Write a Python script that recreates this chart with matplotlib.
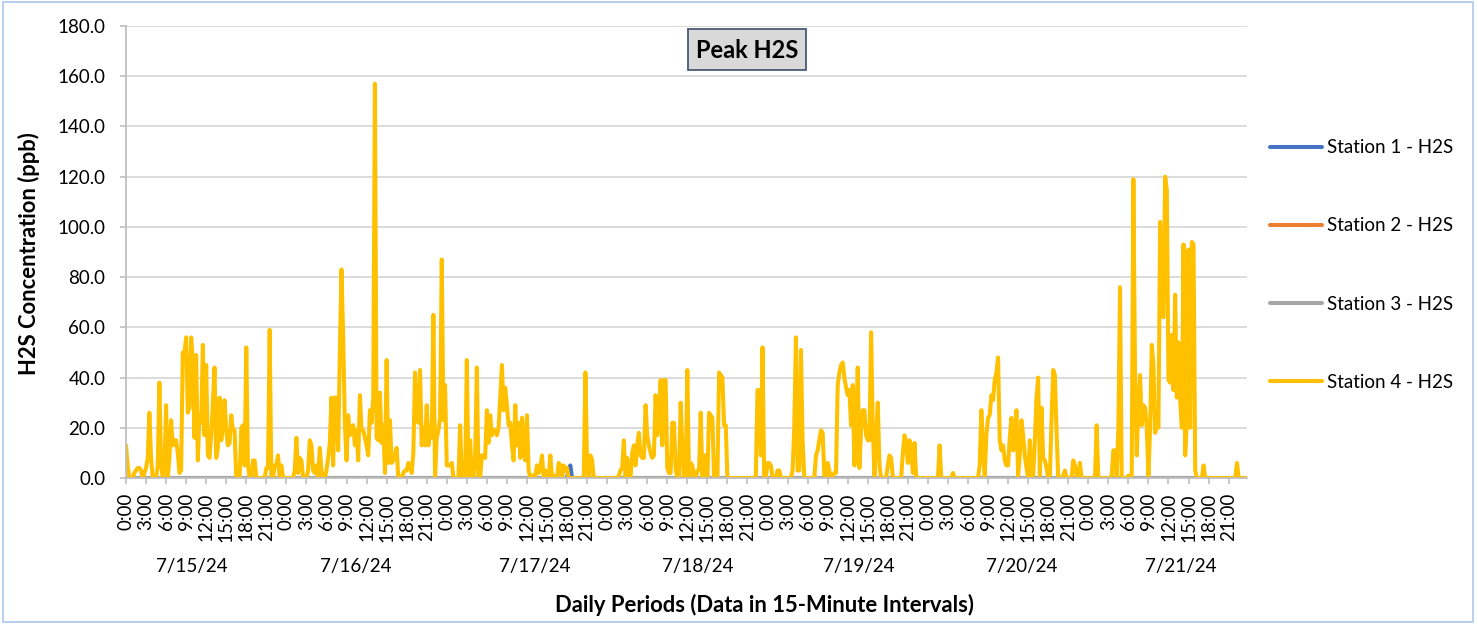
import matplotlib
matplotlib.use('Agg')
import matplotlib.pyplot as plt
from matplotlib.patches import Rectangle

plt.rcParams['font.family'] = ['Lato', 'DejaVu Sans']

# chart text
title = 'Peak H2S'
ylabel = 'H2S Concentration (ppb)'
xlabel = 'Daily Periods (Data in 15-Minute Intervals)'
dates = ['7/15/24', '7/16/24', '7/17/24', '7/18/24', '7/19/24', '7/20/24', '7/21/24']
hours = ['0:00', '3:00', '6:00', '9:00', '12:00', '15:00', '18:00', '21:00']
series_names = ['Station 1 - H2S', 'Station 2 - H2S', 'Station 3 - H2S', 'Station 4 - H2S']

# Station 4 peak H2S (ppb), one value per 15 minutes
day1 = [13, 5, 0, 0, 0, 2, 3, 4, 4, 3,
        0, 2, 4, 8, 26, 8, 0, 0, 0, 5,
        38, 5, 0, 3, 29, 0, 8, 23, 13, 15,
        15, 10, 2, 3, 50, 50, 56, 26, 28, 56,
        47, 16, 49, 7, 25, 22, 53, 17, 45, 9,
        8, 17, 30, 44, 8, 12, 32, 15, 20, 31,
        19, 13, 14, 25, 19, 19, 0, 0, 0, 20,
        21, 5, 52, 5, 0, 0, 7, 7, 0, 0,
        0, 0, 0, 0, 4, 4, 59, 0, 0, 5,
        5, 9, 0, 5, 0, 0]
day2 = [0, 0, 0, 0, 0, 3, 16, 2, 8, 7,
        0, 0, 0, 3, 15, 13, 3, 2, 5, 0,
        12, 3, 0, 0, 3, 8, 14, 32, 5, 32,
        32, 11, 50, 83, 56, 22, 7, 25, 17, 20,
        21, 13, 19, 7, 33, 19, 19, 16, 13, 9,
        27, 22, 32, 157, 16, 15, 34, 14, 21, 2,
        47, 6, 23, 6, 7, 9, 12, 0, 0, 0,
        2, 3, 3, 6, 5, 2, 10, 42, 23, 22,
        43, 13, 20, 13, 29, 13, 21, 16, 65, 0,
        16, 19, 24, 87, 23, 37]
day3 = [5, 5, 5, 6, 0, 0, 0, 0, 21, 0,
        0, 0, 47, 0, 15, 0, 0, 8, 44, 0,
        0, 9, 9, 8, 27, 14, 25, 17, 19, 19,
        17, 20, 32, 45, 27, 36, 29, 21, 22, 13,
        7, 29, 13, 22, 8, 24, 11, 7, 25, 3,
        0, 1, 1, 1, 5, 2, 4, 9, 0, 3,
        1, 0, 9, 0, 1, 0, 0, 6, 5, 0,
        5, 3, 4, 0, 0, 0, 0, 0, 0, 0,
        0, 0, 0, 42, 5, 0, 9, 7, 0, 0,
        0, 0, 0, 0, 0, 0]
day4 = [0, 0, 0, 0, 0, 0, 0, 1, 3, 4,
        15, 0, 8, 0, 0, 10, 13, 5, 13, 18,
        9, 8, 8, 29, 17, 13, 10, 8, 9, 33,
        17, 20, 39, 13, 39, 39, 4, 2, 2, 22,
        22, 4, 0, 0, 30, 13, 0, 0, 43, 0,
        6, 5, 0, 0, 3, 3, 26, 0, 9, 9,
        0, 26, 25, 24, 0, 0, 0, 42, 41, 40,
        21, 21, 0, 0, 0, 0, 0, 0, 0, 0,
        0, 0, 0, 0, 0, 0, 0, 0, 0, 1,
        35, 35, 9, 52, 0, 0]
day5 = [6, 6, 5, 0, 0, 0, 3, 3, 0, 0,
        0, 0, 0, 0, 0, 3, 20, 56, 3, 3,
        51, 15, 0, 0, 0, 0, 0, 0, 0, 9,
        11, 15, 19, 18, 1, 0, 6, 3, 0, 1,
        2, 2, 37, 42, 45, 46, 40, 36, 33, 35,
        21, 37, 5, 20, 44, 4, 19, 27, 27, 17,
        15, 15, 58, 20, 1, 16, 30, 5, 0, 0,
        0, 0, 5, 9, 8, 0, 0, 0, 0, 0,
        0, 10, 17, 14, 6, 15, 11, 2, 14, 0,
        0, 0, 0, 0, 0, 0]
day6 = [0, 0, 0, 0, 0, 0, 0, 13, 0, 0,
        0, 0, 0, 0, 0, 2, 0, 0, 0, 0,
        0, 0, 0, 0, 0, 0, 0, 0, 0, 0,
        0, 5, 27, 12, 1, 17, 24, 25, 33, 31,
        39, 42, 48, 15, 11, 13, 7, 5, 5, 16,
        24, 11, 12, 27, 1, 9, 23, 17, 9, 4,
        0, 15, 0, 1, 15, 32, 40, 1, 28, 8,
        7, 4, 0, 1, 23, 43, 41, 19, 0, 0,
        0, 1, 3, 0, 0, 0, 0, 7, 5, 1,
        0, 6, 0, 0, 0, 0]
day7 = [0, 0, 0, 0, 0, 21, 0, 0, 0, 0,
        0, 0, 0, 0, 1, 11, 11, 0, 20, 76,
        0, 0, 0, 0, 1, 0, 1, 119, 40, 9,
        29, 41, 21, 29, 28, 20, 1, 20, 53, 45,
        18, 21, 20, 102, 65, 64, 120, 115, 39, 38,
        57, 35, 73, 32, 54, 31, 20, 93, 9, 23,
        91, 20, 94, 93, 3, 0, 0, 0, 0, 5,
        0, 0, 0, 0, 0, 0, 0, 0, 0, 0,
        0, 0, 0, 0, 0, 0, 0, 0, 0, 6,
        0, 0, 0, 0, 0, 0]

station4 = day1 + day2 + day3 + day4 + day5 + day6 + day7
n = len(station4)
# other stations stay at zero, station 1 shows one small bump on 7/17
station1 = [0.0] * 265 + [4.0, 5.0] + [0.0] * (n - 267)
station2 = [0.0] * n
station3 = [0.0] * n

colors = ['#4472C4', '#ED7D31', '#A5A5A5', '#FFC000']
# where Excel centred each date label inside its day (hour of the day)
date_label_hour = [9.9, 10.35, 13.2, 13.5, 13.7, 14.0, 13.9]

W, H = 1478, 624
fig = plt.figure(figsize=(W / 100, H / 100), dpi=100)
ax = fig.add_axes([126 / W, 1 - 478 / H, (1247 - 126) / W, (478 - 26) / H])

x = range(n)
for vals, name, c in zip([station1, station2, station3, station4], series_names, colors):
    ax.plot(x, vals, color=c, lw=2.9, label=name, solid_joinstyle='round', solid_capstyle='round')

ax.set_xlim(0, n - 1)
ax.set_ylim(0, 180)
ax.set_yticks(range(0, 181, 20))
ax.set_yticklabels([f'{v:.1f}' for v in range(0, 181, 20)])
ax.set_xticks(range(0, n, 12))
ax.set_xticklabels(hours * len(dates), rotation=90)
ax.tick_params(axis='both', labelsize=13.5, colors='#BFBFBF', labelcolor='black', length=4.3, width=1.2)
ax.tick_params(axis='x', pad=6.5)
ax.tick_params(axis='y', pad=10.5)

ax.grid(axis='y', color='#D9D9D9', lw=1.3)
ax.set_axisbelow(True)
for s in ['top', 'right']:
    ax.spines[s].set_visible(False)
ax.spines['left'].set_color('#BFBFBF')
ax.spines['left'].set_linewidth(1.3)
ax.spines['bottom'].set_color('#BFBFBF')
ax.spines['bottom'].set_linewidth(1.3)

# day group labels under the hour labels
for d, lab in enumerate(dates):
    ax.text(d * 96 + date_label_hour[d] * 4, -0.1947, lab, transform=ax.get_xaxis_transform(),
            ha='center', va='center', fontsize=13.5)

fig.text(29 / W, 1 - 254 / H, ylabel, rotation=90, ha='center', va='center',
         fontsize=15.8, weight='bold')
fig.text(765 / W, 1 - 605 / H, xlabel, ha='center', va='center',
         fontsize=15.8, weight='bold')

# title box
fig.patches.append(Rectangle((688 / W, 1 - 70 / H), 118 / W, 41 / H, transform=fig.transFigure,
                             facecolor='#D9D9D9', edgecolor='#4A5A74', lw=1.3))
fig.text(747 / W, 1 - 50 / H, title, ha='center', va='center', fontsize=17, weight='bold')

leg = fig.legend(loc='center left', bbox_to_anchor=(1270 / W, 1 - 265 / H), frameon=False,
                 fontsize=13.5, handlelength=2.77, handletextpad=0.27, labelspacing=3.26,
                 borderaxespad=0, borderpad=0)

# chart area border
fig.patches.append(Rectangle((3 / W, 1 - 622 / H), 1470 / W, 620 / H, transform=fig.transFigure,
                             facecolor='none', edgecolor='#A9C8EC', lw=1.2))

fig.savefig('out.png', dpi=100)
